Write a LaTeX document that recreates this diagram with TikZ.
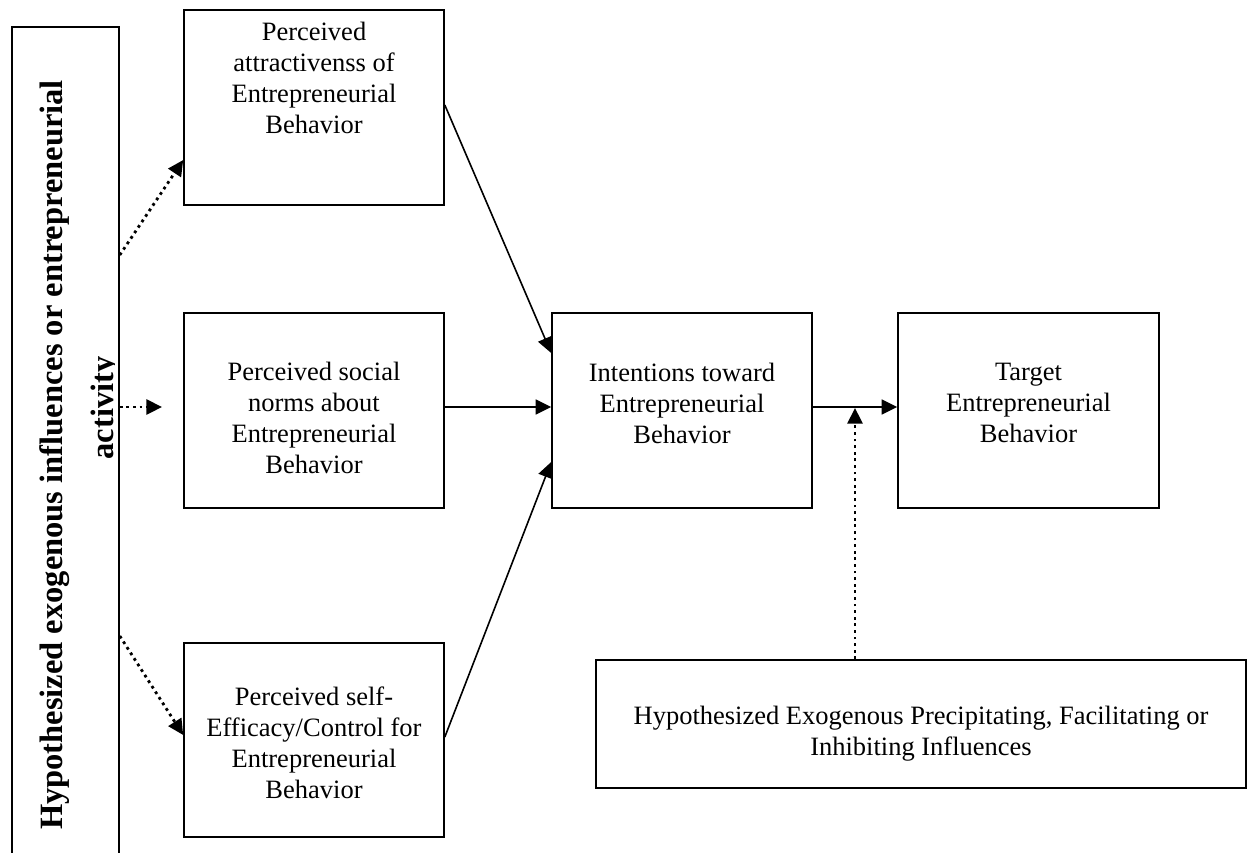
\documentclass[tikz,border=0pt]{standalone}
\usepackage{fontspec}
\setmainfont{Liberation Serif}
\usetikzlibrary{arrows.meta}
\begin{document}
\begin{tikzpicture}[x=0.5pt,y=-0.5pt,
  box/.style={draw, line width=0.8pt, inner sep=0pt},
  txt/.style={align=center, inner sep=0pt, font=\fontsize{13.25pt}{15.5pt}\selectfont},
  sidetext/.style={rotate=90, anchor=base, inner sep=0pt, font=\fontsize{16.25pt}{19pt}\selectfont\bfseries},
  solidarrow/.style={line width=0.8pt, -{Triangle[length=7.8pt,width=7.5pt]}},
  dotarrow/.style={line width=1.4pt, dash pattern=on 1.4pt off 1.9pt, -{Triangle[length=7.8pt,width=7.5pt]}}]
\useasboundingbox (0,0) rectangle (1251,852);
\clip (0,0) rectangle (1251,852);

% exogenous influences column, open at the bottom edge
\node[box, minimum width=53.5pt, minimum height=430pt] (exo) at (65.5,457) {};
\begin{scope}
  \clip (12,27) rectangle (114,852);
  \node[sidetext] (exo1) at (62,455) {Hypothesized exogenous influences or entrepreneurial};
  \node[sidetext] (exo2) at (113,408) {activity};
\end{scope}

% antecedent boxes
\node[box, minimum width=130pt, minimum height=97.5pt] (attr) at (314,107.5) {};
\node[txt] (attrT) at (314,78) {Perceived\\attractivenss of\\Entrepreneurial\\Behavior};

\node[box, minimum width=130pt, minimum height=97.5pt] (social) at (314,410.5) {};
\node[txt] (socialT) at (314,418) {Perceived social\\norms about\\Entrepreneurial\\Behavior};

\node[box, minimum width=130pt, minimum height=97pt] (selfeff) at (314,740) {};
\node[txt] (selfeffT) at (314,743) {Perceived self-\\Efficacy/Control for\\Entrepreneurial\\Behavior};

% intentions and behaviour
\node[box, minimum width=130pt, minimum height=97.5pt] (intent) at (682,410.5) {};
\node[txt] (intentT) at (682,403) {Intentions toward\\Entrepreneurial\\Behavior};

\node[box, minimum width=130.5pt, minimum height=97.5pt] (target) at (1028.5,410.5) {};
\node[txt] (targetT) at (1028.5,403) {Target\\Entrepreneurial\\Behavior};

% precipitating influences
\node[box, minimum width=325pt, minimum height=64pt] (precip) at (921,724) {};
\node[txt] (precipT) at (921,733.5) {Hypothesized Exogenous Precipitating, Facilitating or\\Inhibiting Influences};

\coordinate (n2) at (162,407);
\coordinate (jn) at (855,408);

% connectors
\draw[dotarrow] (exo.east |- 0,255) -- (attr.west |- 0,160);
\draw[dotarrow] (exo.east |- 0,407) -- (n2);
\draw[dotarrow] (exo.east |- 0,636) -- (selfeff.west |- 0,735);
\draw[solidarrow] (attr.east |- 0,105) -- (intent.west |- 0,353);
\draw[solidarrow] (social.east |- 0,407) -- (intent.west |- 0,407);
\draw[solidarrow] (selfeff.east |- 0,737) -- (intent.west |- 0,462);
\draw[solidarrow] (intent.east |- 0,407) -- (target.west |- 0,407);
\draw[dotarrow] (precip.north -| jn) -- (jn);
\end{tikzpicture}
\end{document}
